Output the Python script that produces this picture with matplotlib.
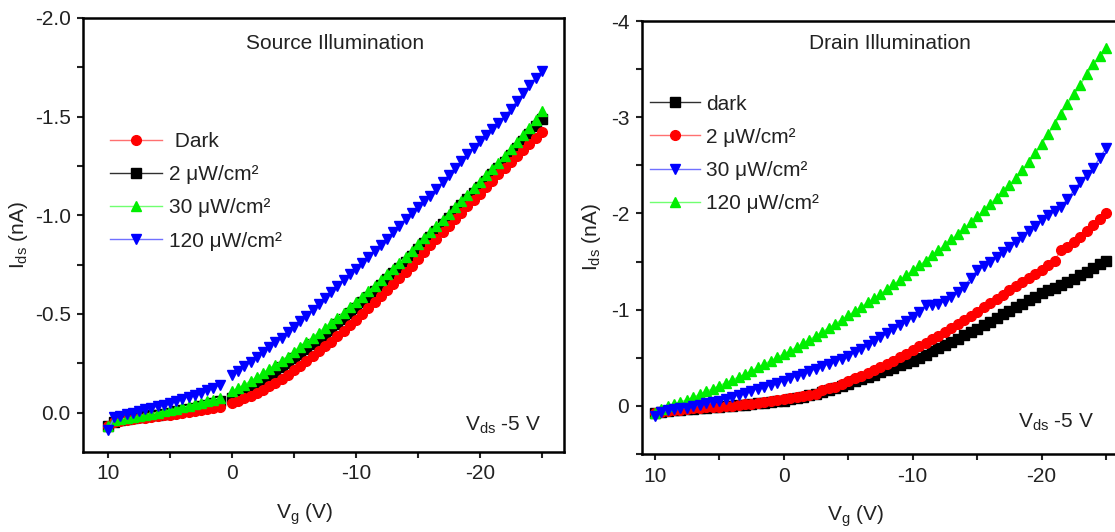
import matplotlib
matplotlib.use("Agg")
import matplotlib.pyplot as plt
from matplotlib.ticker import MultipleLocator
import numpy as np

plt.rcParams['font.family'] = ['Liberation Sans', 'DejaVu Sans']
plt.rcParams['mathtext.fontset'] = 'custom'
plt.rcParams['mathtext.rm'] = 'Liberation Sans'
plt.rcParams['axes.unicode_minus'] = False

# gate voltage sweep, 10 V down to -25 V in 0.5 V steps
vg = np.arange(10, -25.5, -0.5)

# ---- source illumination (left); no point at 0.5 V
src_dark_a = [0.07, 0.05, 0.045, 0.04, 0.035, 0.03, 0.027, 0.023, 0.02, 0.015,
              0.012, 0.007, 0.003, -0.002, -0.007, -0.012, -0.018, -0.024, -0.03]
src_dark_b = [-0.05, -0.06, -0.072, -0.085, -0.1, -0.115, -0.132, -0.15, -0.17, -0.192,
              -0.214, -0.237, -0.26, -0.285, -0.31, -0.335, -0.36, -0.387, -0.414, -0.442,
              -0.47, -0.5, -0.53, -0.56, -0.59, -0.62, -0.65, -0.68, -0.71, -0.745,
              -0.78, -0.815, -0.85, -0.882, -0.915, -0.948, -0.98, -1.012, -1.045, -1.078,
              -1.11, -1.142, -1.175, -1.208, -1.24, -1.27, -1.3, -1.33, -1.36, -1.39,
              -1.42]
src_2_a = [0.07, 0.05, 0.04, 0.035, 0.03, 0.025, 0.02, 0.015, 0.01, 0.005,
           0.0, -0.006, -0.012, -0.018, -0.025, -0.032, -0.04, -0.048, -0.056]
src_2_b = [-0.075, -0.088, -0.102, -0.12, -0.14, -0.162, -0.184, -0.207, -0.23, -0.252,
           -0.275, -0.297, -0.32, -0.345, -0.37, -0.395, -0.42, -0.447, -0.475, -0.502,
           -0.53, -0.559, -0.588, -0.616, -0.645, -0.675, -0.705, -0.735, -0.765, -0.796,
           -0.828, -0.859, -0.89, -0.922, -0.955, -0.988, -1.02, -1.051, -1.082, -1.114,
           -1.145, -1.176, -1.207, -1.238, -1.27, -1.305, -1.34, -1.375, -1.41, -1.45,
           -1.49]
src_30_a = [0.07, 0.04, 0.035, 0.03, 0.024, 0.018, 0.012, 0.006, 0.0, -0.006,
            -0.012, -0.019, -0.026, -0.034, -0.042, -0.05, -0.058, -0.066, -0.075]
src_30_b = [-0.11, -0.125, -0.142, -0.16, -0.18, -0.2, -0.22, -0.24, -0.26, -0.283,
            -0.307, -0.331, -0.355, -0.38, -0.405, -0.43, -0.455, -0.481, -0.507, -0.533,
            -0.56, -0.587, -0.614, -0.642, -0.67, -0.7, -0.73, -0.76, -0.79, -0.821,
            -0.852, -0.884, -0.915, -0.946, -0.977, -1.008, -1.04, -1.072, -1.105, -1.137,
            -1.17, -1.202, -1.235, -1.267, -1.3, -1.335, -1.37, -1.405, -1.44, -1.485,
            -1.53]
src_120_a = [0.09, 0.025, 0.017, 0.008, 0.0, -0.008, -0.016, -0.024, -0.032, -0.04,
             -0.05, -0.06, -0.07, -0.08, -0.09, -0.1, -0.112, -0.125, -0.14]
src_120_b = [-0.19, -0.21, -0.235, -0.257, -0.28, -0.305, -0.33, -0.355, -0.38, -0.407,
             -0.435, -0.462, -0.49, -0.52, -0.55, -0.58, -0.61, -0.64, -0.67, -0.7,
             -0.73, -0.76, -0.79, -0.82, -0.85, -0.882, -0.915, -0.947, -0.98, -1.01,
             -1.04, -1.07, -1.1, -1.135, -1.17, -1.205, -1.24, -1.274, -1.308, -1.341,
             -1.375, -1.406, -1.437, -1.468, -1.5, -1.54, -1.58, -1.62, -1.66, -1.695,
             -1.73]

# ---- drain illumination (right)
drn_dark = [0.07, 0.06, 0.05, 0.045, 0.04, 0.035, 0.03, 0.025, 0.02, 0.015,
            0.01, 0.005, 0.0, -0.005, -0.01, -0.02, -0.025, -0.035, -0.04, -0.048,
            -0.055, -0.068, -0.08, -0.095, -0.11, -0.125, -0.14, -0.162, -0.185, -0.207,
            -0.23, -0.254, -0.278, -0.302, -0.326, -0.35, -0.374, -0.398, -0.422, -0.446,
            -0.47, -0.502, -0.534, -0.566, -0.598, -0.63, -0.664, -0.698, -0.732, -0.766,
            -0.8, -0.838, -0.876, -0.914, -0.952, -0.99, -1.026, -1.062, -1.098, -1.134,
            -1.17, -1.2, -1.23, -1.26, -1.29, -1.32, -1.358, -1.396, -1.434, -1.472,
            -1.51]
drn_2 = [0.07, 0.06, 0.05, 0.045, 0.04, 0.03, 0.025, 0.02, 0.015, 0.012,
         0.01, 0.003, -0.003, -0.01, -0.015, -0.02, -0.03, -0.04, -0.05, -0.06,
         -0.07, -0.08, -0.09, -0.1, -0.11, -0.125, -0.17, -0.185, -0.2, -0.23,
         -0.26, -0.285, -0.31, -0.34, -0.37, -0.4, -0.435, -0.47, -0.505, -0.54,
         -0.58, -0.618, -0.655, -0.693, -0.73, -0.77, -0.81, -0.853, -0.895, -0.937,
         -0.98, -1.025, -1.07, -1.113, -1.155, -1.2, -1.245, -1.29, -1.33, -1.37,
         -1.41, -1.46, -1.51, -1.62, -1.65, -1.7, -1.76, -1.82, -1.88, -1.94,
         -2.0]
drn_30 = [0.1, 0.06, 0.045, 0.035, 0.025, 0.02, 0.005, -0.01, -0.025, -0.04,
          -0.055, -0.075, -0.095, -0.115, -0.137, -0.16, -0.18, -0.2, -0.22, -0.24,
          -0.26, -0.285, -0.31, -0.335, -0.36, -0.385, -0.41, -0.437, -0.465, -0.492,
          -0.52, -0.557, -0.595, -0.635, -0.675, -0.715, -0.755, -0.8, -0.84, -0.88,
          -0.92, -0.98, -1.045, -1.05, -1.06, -1.09, -1.13, -1.18, -1.24, -1.33,
          -1.41, -1.45, -1.5, -1.55, -1.6, -1.65, -1.7, -1.76, -1.82, -1.87,
          -1.93, -1.98, -2.03, -2.07, -2.15, -2.24, -2.33, -2.4, -2.47, -2.58,
          -2.68]
drn_120 = [0.07, 0.03, 0.0, -0.02, -0.04, -0.065, -0.09, -0.12, -0.15, -0.18,
           -0.21, -0.24, -0.27, -0.3, -0.33, -0.365, -0.4, -0.435, -0.47, -0.505,
           -0.54, -0.575, -0.61, -0.65, -0.69, -0.73, -0.77, -0.812, -0.855, -0.897,
           -0.94, -0.985, -1.03, -1.075, -1.12, -1.167, -1.215, -1.262, -1.31, -1.36,
           -1.41, -1.46, -1.51, -1.565, -1.62, -1.675, -1.73, -1.79, -1.85, -1.91,
           -1.97, -2.035, -2.1, -2.165, -2.23, -2.3, -2.37, -2.45, -2.53, -2.625,
           -2.72, -2.825, -2.93, -3.035, -3.14, -3.24, -3.34, -3.445, -3.55, -3.635,
           -3.72]

src_dark = src_dark_a + [np.nan] + src_dark_b
src_2 = src_2_a + [np.nan] + src_2_b
src_30 = src_30_a + [np.nan] + src_30_b
src_120 = src_120_a + [np.nan] + src_120_b

RED, BLACK, GREEN, BLUE = '#ff0000', '#000000', '#00ee00', '#0000ff'
TXT = '#222222'
FS = 15

fig = plt.figure(figsize=(11.15, 5.32), dpi=100)
ax1 = fig.add_axes([0.0746, 0.1504, 0.4314, 0.8158])
ax2 = fig.add_axes([0.5756, 0.1466, 0.4269, 0.8139])


def series(ax, y, color, lcolor, marker, ms, label, z):
    ax.plot(vg, y, color=lcolor, lw=1, marker=marker, ms=ms, mfc=color,
            mec=color, label=label, zorder=z)


series(ax1, src_dark, RED, '#ff7070', 'o', 7, ' Dark', 3)
series(ax1, src_2, BLACK, '#303030', 's', 6.5, '2 μW/cm²', 2)
series(ax1, src_30, GREEN, '#70ff70', '^', 7.5, '30 μW/cm²', 4)
series(ax1, src_120, BLUE, '#7070ff', 'v', 7.5, '120 μW/cm²', 5)

series(ax2, drn_dark, BLACK, '#303030', 's', 6.5, 'dark', 2)
series(ax2, drn_2, RED, '#ff7070', 'o', 7, '2 μW/cm²', 3)
series(ax2, drn_30, BLUE, '#7070ff', 'v', 7.5, '30 μW/cm²', 5)
series(ax2, drn_120, GREEN, '#70ff70', '^', 7.5, '120 μW/cm²', 4)

ax1.set_xlim(12, -26.8)
ax1.set_ylim(0.2, -2.0)
ax1.yaxis.set_major_locator(MultipleLocator(0.5))
ax1.yaxis.set_minor_locator(MultipleLocator(0.25))
ax1.yaxis.set_major_formatter(plt.FormatStrFormatter('%.1f'))

ax2.set_xlim(11, -25.9)
ax2.set_ylim(0.5, -4)
ax2.yaxis.set_major_locator(MultipleLocator(1))
ax2.yaxis.set_minor_locator(MultipleLocator(0.5))

for ax in (ax1, ax2):
    ax.xaxis.set_major_locator(MultipleLocator(10))
    ax.xaxis.set_minor_locator(MultipleLocator(5))
    for s in ax.spines.values():
        s.set_linewidth(1.8)
    ax.tick_params(which='both', direction='out', length=4, width=1.5,
                   labelsize=FS, colors=TXT, top=False, right=False)
    ax.tick_params(which='major', pad=5)
    ax.set_ylabel(r'$\mathregular{I_{ds}}$ (nA)', fontsize=FS, color=TXT)
    ax.set_xlabel(r'$\mathregular{V_g}$ (V)', fontsize=FS, color=TXT)

ax1.yaxis.set_label_coords(-0.11, 0.5)
ax1.xaxis.set_label_coords(0.46, -0.115)
ax2.yaxis.set_label_coords(-0.082, 0.5)
ax2.xaxis.set_label_coords(0.45, -0.115)

ax1.text(0.523, 0.942, 'Source Illumination', transform=ax1.transAxes,
         ha='center', va='center', fontsize=FS, color=TXT)
ax2.text(0.521, 0.949, 'Drain Illumination', transform=ax2.transAxes,
         ha='center', va='center', fontsize=FS, color=TXT)
ax1.text(0.873, 0.062, r'$\mathregular{V_{ds}}$ -5 V', transform=ax1.transAxes,
         ha='center', va='center', fontsize=FS, color=TXT)
ax2.text(0.87, 0.074, r'$\mathregular{V_{ds}}$ -5 V', transform=ax2.transAxes,
         ha='center', va='center', fontsize=FS, color=TXT)

ax1.legend(loc='upper left', bbox_to_anchor=(0.056, 0.737), frameon=False,
           borderpad=0, borderaxespad=0, handlelength=2.5, handletextpad=0.33,
           labelspacing=0.68, fontsize=FS, labelcolor=TXT)
ax2.legend(loc='upper left', bbox_to_anchor=(0.017, 0.83), frameon=False,
           borderpad=0, borderaxespad=0, handlelength=2.4, handletextpad=0.28,
           labelspacing=0.68, fontsize=FS, labelcolor=TXT)

fig.savefig('out.png', dpi=100)
